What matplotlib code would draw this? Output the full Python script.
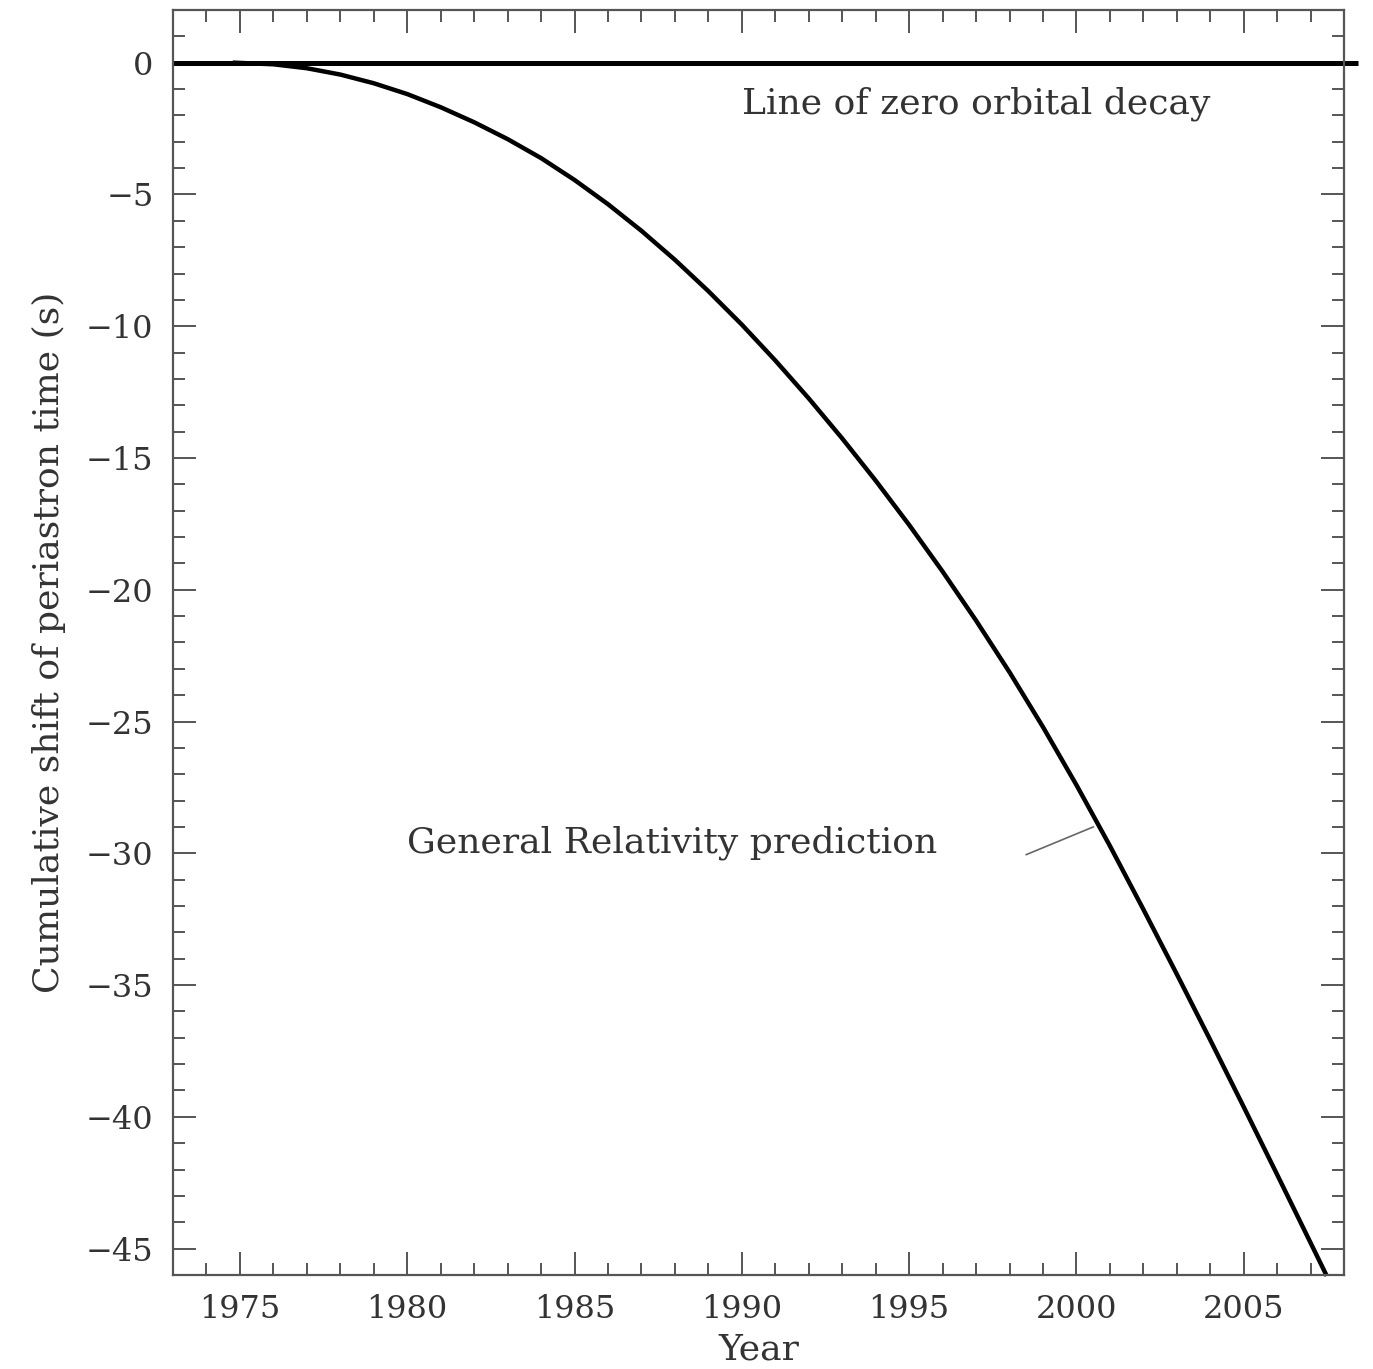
import matplotlib
matplotlib.use("Agg")
import matplotlib.pyplot as plt
from matplotlib.ticker import MultipleLocator

# cumulative shift of periastron time, GR prediction (s)
years = [1974.85, 1976, 1977, 1978, 1979, 1980, 1981, 1982, 1983, 1984,
         1985, 1986, 1987, 1988, 1989, 1990, 1991, 1992, 1993, 1994,
         1995, 1996, 1997, 1998, 1999, 2000, 2001, 2002, 2003, 2004,
         2005, 2006, 2007, 2007.45]
shift = [0.0, -0.06, -0.21, -0.45, -0.78, -1.19, -1.69, -2.26, -2.90, -3.62,
         -4.45, -5.37, -6.38, -7.48, -8.67, -9.94, -11.30, -12.74, -14.26, -15.86,
         -17.54, -19.31, -21.17, -23.13, -25.21, -27.41, -29.72, -32.13, -34.59, -37.09,
         -39.63, -42.20, -44.79, -45.96]

zero_x = [1973, 2008.4]
zero_y = [0, 0]

plt.rcParams['font.family'] = ['DejaVu Serif']
grey = '#555555'
txt = '#333333'

fig = plt.figure(figsize=(13.73, 13.69), dpi=100)
ax = fig.add_axes([0.126, 0.0687, 0.853, 0.924])

ax.plot(zero_x, zero_y, color='black', lw=3.6, clip_on=False, solid_capstyle='butt')
ax.plot(years, shift, color='black', lw=3.2, clip_on=False)

ax.text(1990.0, -1.56, 'Line of zero orbital decay', fontsize=26, color=txt,
        va='center', ha='left')
ax.text(1980.0, -29.6, 'General Relativity prediction', fontsize=26, color=txt,
        va='center', ha='left')
ax.plot([1998.5, 2000.5], [-30.05, -29.0], color='#666666', lw=1.2)

ax.set_xlim(1973, 2008)
ax.set_ylim(-46, 2)
ax.xaxis.set_major_locator(MultipleLocator(5))
ax.xaxis.set_minor_locator(MultipleLocator(1))
ax.yaxis.set_major_locator(MultipleLocator(5))
ax.yaxis.set_minor_locator(MultipleLocator(1))
ax.set_xticks([1975, 1980, 1985, 1990, 1995, 2000, 2005])

ax.tick_params(which='both', direction='in', top=True, right=True,
               color=grey, width=1.4, labelsize=23, labelcolor=txt)
ax.tick_params(which='major', length=16.5, pad=14)
ax.tick_params(which='minor', length=8.5)
for s in ax.spines.values():
    s.set_color(grey)
    s.set_linewidth(1.6)

ax.set_xlabel('Year', fontsize=26, color=txt, labelpad=5)
ax.set_ylabel('Cumulative shift of periastron time (s)', fontsize=26,
              color=txt, labelpad=14)

fig.savefig('out.png', dpi=100)
